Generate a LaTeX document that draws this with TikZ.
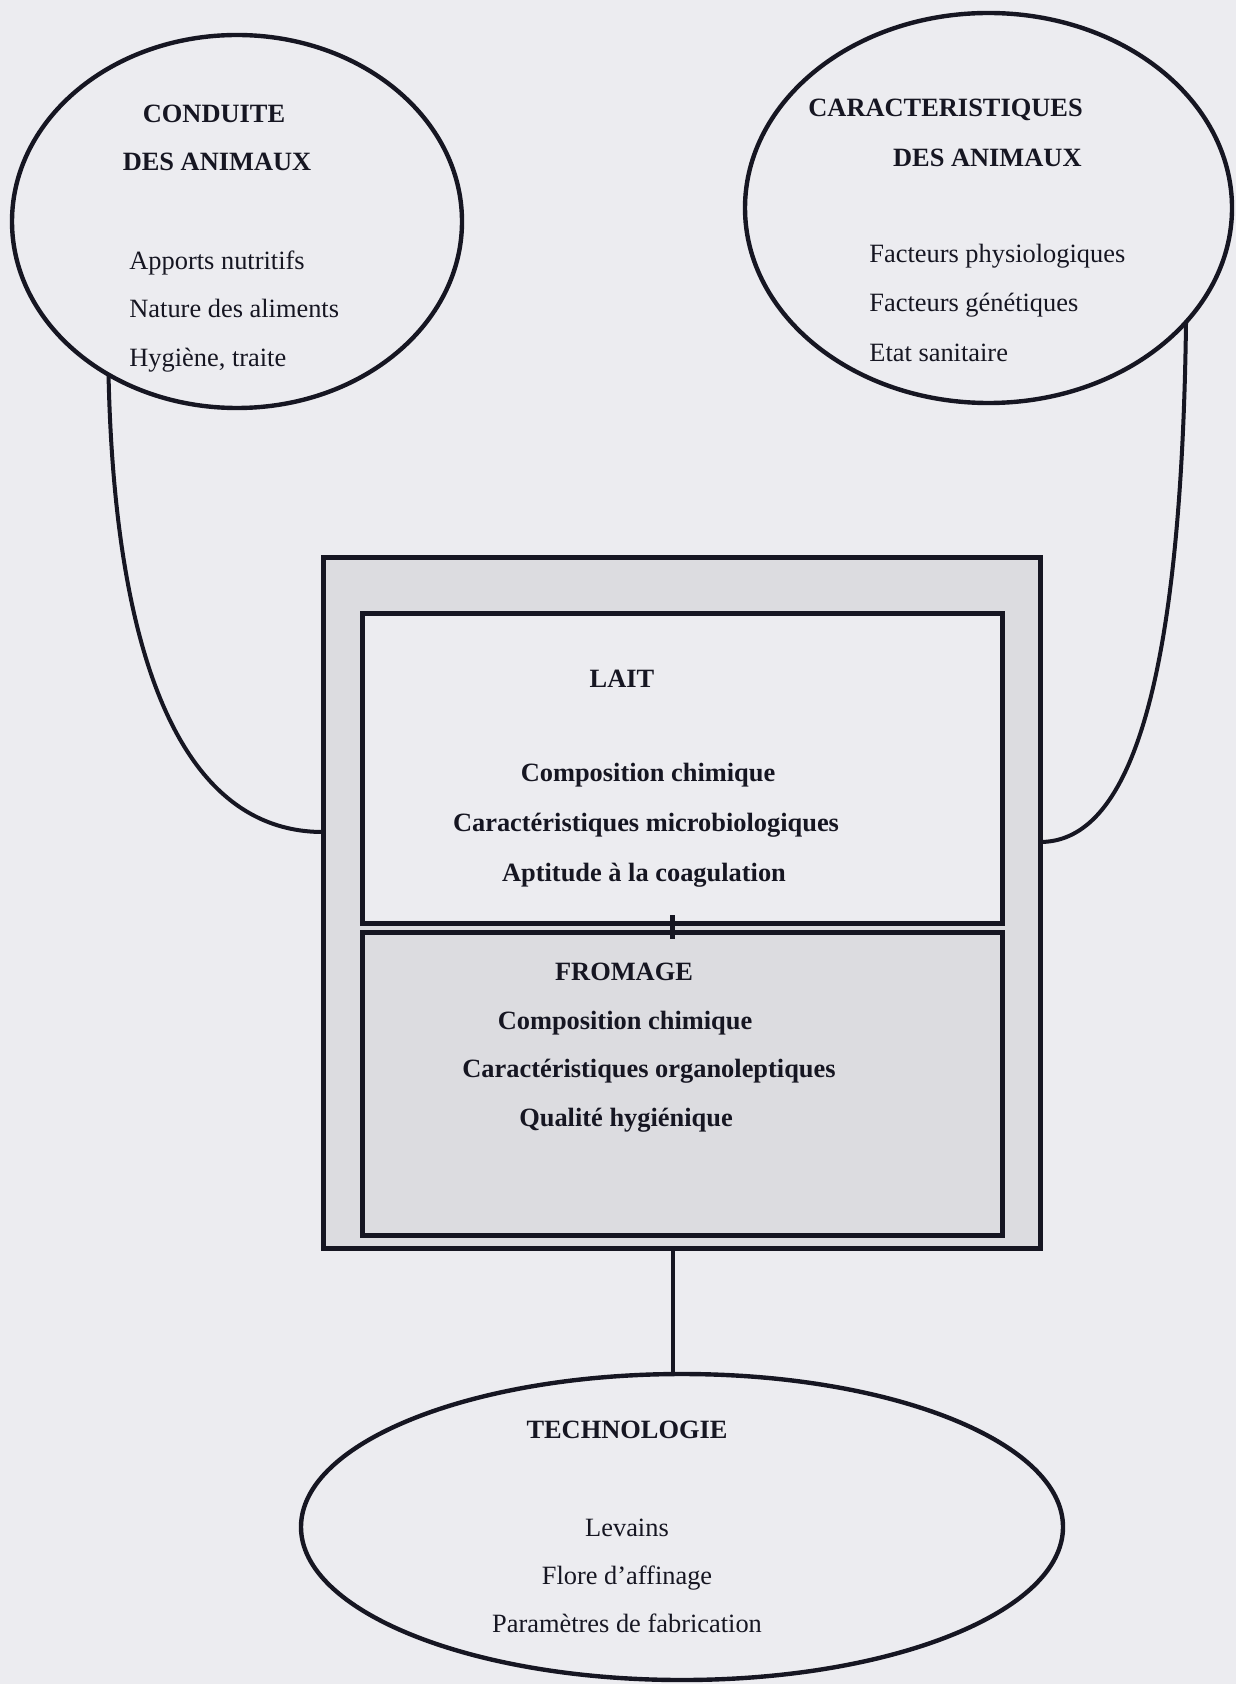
\documentclass[tikz,border=0pt]{standalone}
\usepackage{fontspec}
\setmainfont{Liberation Serif}
\usetikzlibrary{shapes.geometric,calc}
\definecolor{pagebg}{RGB}{236,236,240}
\definecolor{shadefill}{RGB}{220,220,224}
\definecolor{ink}{RGB}{22,22,34}
\begin{document}
\begin{tikzpicture}[x=0.5pt,y=-0.5pt,
  bubble/.style={draw=ink,line width=2.2pt,ellipse,inner sep=0pt,outer sep=0pt},
  box/.style={draw=ink,line width=2.5pt,rectangle,inner sep=0pt,outer sep=0pt},
  link/.style={draw=ink,line width=2pt},
  head/.style={font=\fontsize{13.2}{16}\selectfont\bfseries,inner sep=0pt,text=ink},
  item/.style={font=\fontsize{13.2}{16}\selectfont,inner sep=0pt,text=ink},
]
\fill[pagebg] (0,0) rectangle (1236,1684);
\useasboundingbox (0,0) rectangle (1236,1684);

% ellipses
\node[bubble,minimum width=225pt,minimum height=186.5pt] (cond) at (237,221.5) {};
\node[bubble,minimum width=243.5pt,minimum height=195pt] (carac) at (988.5,208) {};
\node[bubble,minimum width=381pt,minimum height=153pt] (tech) at (682,1527) {};

% boxes
\node[box,fill=shadefill,minimum width=358.5pt,minimum height=345.5pt] (outer) at (681.5,902.5) {};
\node[box,fill=pagebg,minimum width=320pt,minimum height=155pt] (lait) at (682,768) {};
\node[box,fill=shadefill,minimum width=320pt,minimum height=151.5pt] (fromage) at (682,1084) {};

% connectors
\path (outer.north west) ++(0,275) coordinate (lt);
\path (outer.north east) ++(0,285) coordinate (rt);
\draw[link] (cond.230) .. controls +(6,280) and +(-143,0) .. (lt);
\draw[link] (carac.-30) .. controls +(-5,397) and +(80,0) .. (rt);
\draw[link,line width=2.5pt] ($(lait.south)+(-10,-8)$) -- ($(fromage.north)+(-10,6)$);
\coordinate (cb) at ($(outer.south)+(-9,0)$);
\draw[link] (cb) -- (cb |- tech.north);

% texts: CONDUITE
\node[head,anchor=base] (cT1) at (214,123) {CONDUITE};
\node[head,anchor=base] (cT2) at (217,171) {DES ANIMAUX};
\node[item,anchor=base west] (cI1) at (129,270) {Apports nutritifs};
\node[item,anchor=base west] (cI2) at (129,318) {Nature des aliments};
\node[item,anchor=base west] (cI3) at (129,367) {Hygiène, traite};

% CARACTERISTIQUES
\node[head,anchor=base west] (kT1) at (808,117) {CARACTERISTIQUES};
\node[head,anchor=base east] (kT2) at (1082,167) {DES ANIMAUX};
\node[item,anchor=base west] (kI1) at (869,263) {Facteurs physiologiques};
\node[item,anchor=base west] (kI2) at (869,312) {Facteurs génétiques};
\node[item,anchor=base west] (kI3) at (869,362) {Etat sanitaire};

% LAIT
\node[head,anchor=base] (lT) at (622,687) {LAIT};
\node[head,anchor=base] (lI1) at (648,781) {Composition chimique};
\node[head,anchor=base] (lI2) at (646,831) {Caractéristiques microbiologiques};
\node[head,anchor=base] (lI3) at (644,881) {Aptitude à la coagulation};

% FROMAGE
\node[head,anchor=base] (fT) at (624,980) {FROMAGE};
\node[head,anchor=base] (fI1) at (625,1029) {Composition chimique};
\node[head,anchor=base] (fI2) at (649,1077) {Caractéristiques organoleptiques};
\node[head,anchor=base] (fI3) at (626,1126) {Qualité hygiénique};

% TECHNOLOGIE
\node[head,anchor=base] (tT) at (627,1438) {TECHNOLOGIE};
\node[item,anchor=base] (tI1) at (627,1536) {Levains};
\node[item,anchor=base] (tI2) at (627,1584) {Flore d’affinage};
\node[item,anchor=base] (tI3) at (627,1632) {Paramètres de fabrication};
\end{tikzpicture}
\end{document}
